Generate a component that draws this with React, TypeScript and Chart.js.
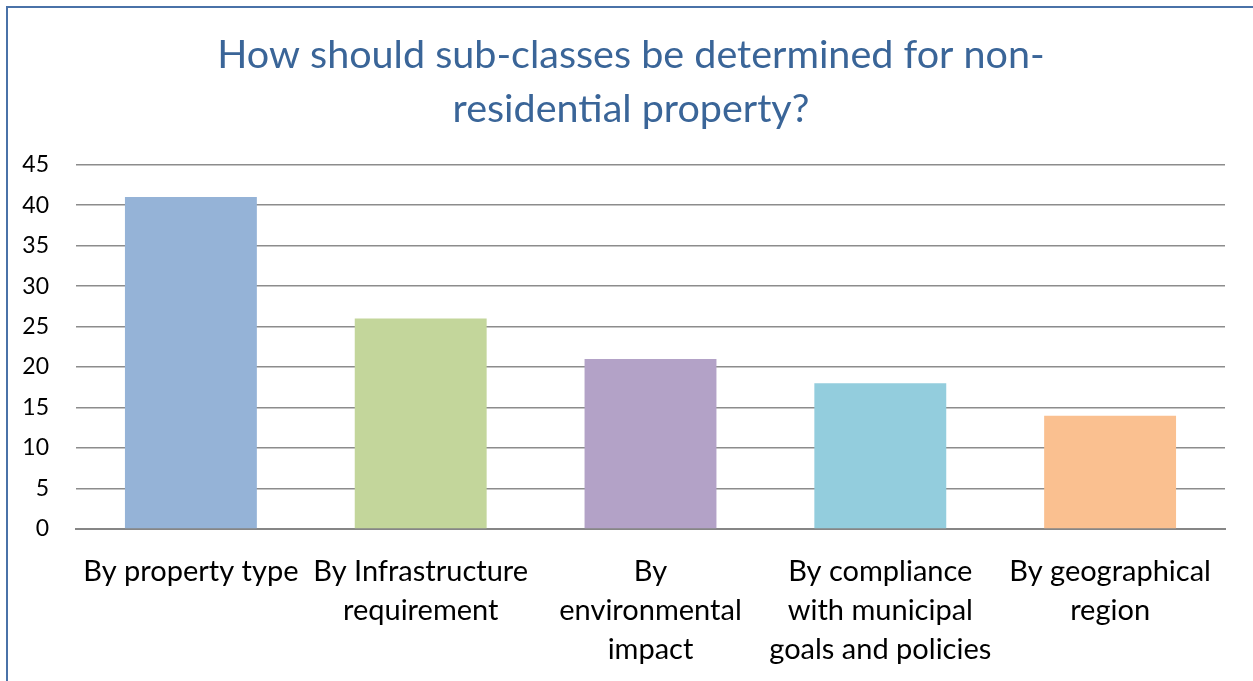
import React, { useEffect, useRef } from "react";
import { Chart, registerables } from "chart.js";

Chart.register(...registerables);

const categories: string[][] = [
  ["By property type"],
  ["By Infrastructure", "requirement"],
  ["By", "environmental", "impact"],
  ["By compliance", "with municipal", "goals and policies"],
  ["By geographical", "region"],
];
const responses: number[] = [41, 26, 21, 18, 14];
const barColors: string[] = ["#95B3D7", "#C3D69B", "#B3A2C7", "#93CDDD", "#FAC090"];
const titleLines: string[] = ["How should sub-classes be determined for non-", "residential property?"];
const yMax = 45;
const yStep = 5;

const FONT = "Lato, 'Open Sans', sans-serif";
const CANVAS_W = 1262;
const CANVAS_H = 681;

const frame = {
  id: "frame",
  beforeDraw(chart: any) {
    const ctx = chart.ctx;
    ctx.save();
    ctx.fillStyle = "#ffffff";
    ctx.fillRect(0, 0, chart.width, chart.height);
    ctx.strokeStyle = "#4A72A8";
    ctx.lineWidth = 2;
    ctx.strokeRect(7, 7, chart.width + 20, chart.height + 20);
    ctx.restore();
  },
};

export default function App() {
  const ref = useRef<HTMLCanvasElement | null>(null);
  useEffect(() => {
    if (!ref.current) return;
    const chart = new Chart(ref.current, {
      type: "bar",
      data: {
        labels: categories,
        datasets: [
          {
            data: responses,
            backgroundColor: barColors,
            borderWidth: 0,
            barPercentage: 1,
            categoryPercentage: 0.574,
          },
        ],
      },
      options: {
        animation: false,
        responsive: false,
        maintainAspectRatio: false,
        layout: { padding: { left: 0, right: 0, top: 0, bottom: 0 } },
        plugins: {
          legend: { display: false },
          tooltip: { enabled: false },
          title: {
            display: true,
            text: titleLines,
            color: "#3A6598",
            font: { family: FONT, size: 39.5, weight: "normal", lineHeight: 1.35 },
            padding: { top: 29, bottom: 29 },
          },
        },
        scales: {
          x: {
            grid: { display: false },
            border: { display: true, color: "#868686", width: 2 },
            afterFit: (scale: any) => {
              scale.height = 152;
            },
            ticks: {
              color: "#000000",
              font: { family: FONT, size: 29, lineHeight: 1.35 },
              padding: 15,
              maxRotation: 0,
              autoSkip: false,
            },
          },
          y: {
            min: 0,
            max: yMax,
            afterFit: (scale: any) => {
              scale.width = 76;
            },
            grid: { color: "#8C8C8C", lineWidth: 1.5, drawTicks: false },
            border: { display: false },
            ticks: {
              stepSize: yStep,
              color: "#000000",
              font: { family: FONT, size: 23 },
              padding: 27,
            },
          },
          y2: {
            type: "linear",
            position: "right",
            display: true,
            min: 0,
            max: yMax,
            afterFit: (scale: any) => {
              scale.width = CANVAS_W - 1225;
            },
            grid: { display: false },
            border: { display: false },
            ticks: { display: false },
          },
        },
      },
      plugins: [frame],
    });
    return () => chart.destroy();
  }, []);
  return (
    <div style={{ position: "absolute", left: 0, top: 0, width: 1253, height: 681, overflow: "hidden" }}>
      <canvas ref={ref} width={CANVAS_W} height={CANVAS_H} style={{ display: "block" }} />
    </div>
  );
}
